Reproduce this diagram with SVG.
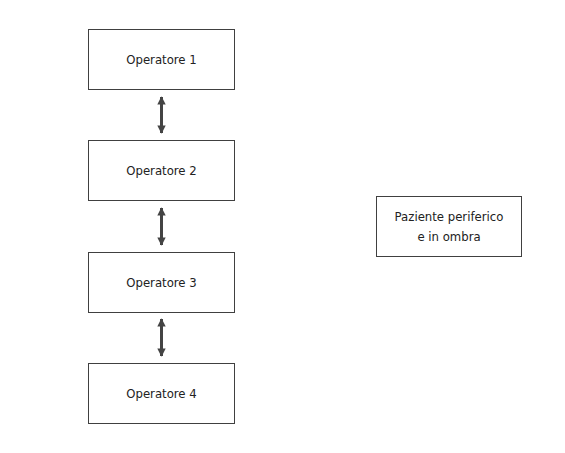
<svg xmlns="http://www.w3.org/2000/svg" width="565" height="453" viewBox="0 0 565 453">
<style>
.box{fill:#fff;stroke:#404040;stroke-width:1}
.t{font-family:"DejaVu Sans Condensed","DejaVu Sans",sans-serif;font-stretch:condensed;font-size:13px;fill:#222;text-anchor:middle}
.c{stroke:#444;stroke-width:3;fill:none}
</style>
<defs>
<marker id="ah" viewBox="0 0 10 10" refX="9" refY="5" markerWidth="3.5" markerHeight="2.8" orient="auto-start-reverse" markerUnits="strokeWidth">
<path d="M0,0 L10,5 L0,10 z" fill="#444"/>
</marker>
</defs>
<rect width="565" height="453" fill="#fff"/>
<g id="op1"><rect class="box" x="88.5" y="29.5" width="146" height="60"/><text class="t" x="161.5" y="64">Operatore 1</text></g>
<g id="op2"><rect class="box" x="88.5" y="140.5" width="146" height="60"/><text class="t" x="161.5" y="175">Operatore 2</text></g>
<g id="op3"><rect class="box" x="88.5" y="252.5" width="146" height="60"/><text class="t" x="161.5" y="287">Operatore 3</text></g>
<g id="op4"><rect class="box" x="88.5" y="363.5" width="146" height="60"/><text class="t" x="161.5" y="398">Operatore 4</text></g>
<g id="paz"><rect class="box" x="376.5" y="196.5" width="145" height="60"/><text class="t" x="449" y="221">Paziente periferico</text><text class="t" x="449" y="241">e in ombra</text></g>
<g id="connectors">
<line class="c" x1="161.5" y1="97" x2="161.5" y2="133" marker-start="url(#ah)" marker-end="url(#ah)"/>
<line class="c" x1="161.5" y1="208" x2="161.5" y2="245" marker-start="url(#ah)" marker-end="url(#ah)"/>
<line class="c" x1="161.5" y1="319" x2="161.5" y2="356" marker-start="url(#ah)" marker-end="url(#ah)"/>
</g>
</svg>
